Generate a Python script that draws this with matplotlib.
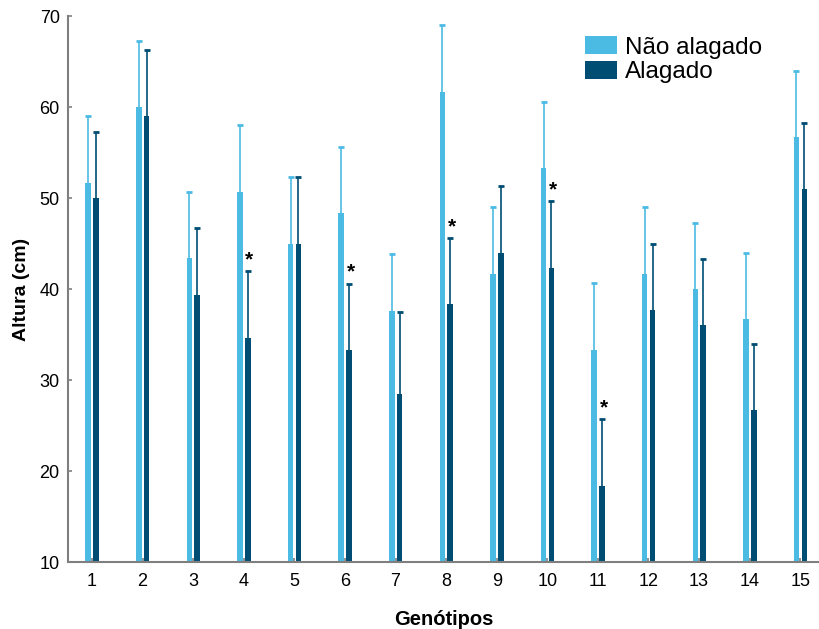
import numpy as np
import matplotlib.pyplot as plt

plt.rcParams['font.family'] = ['Liberation Sans', 'DejaVu Sans']

# Data
genotipos = list(range(1, 16))
nao_alagado = [51.7, 60.0, 43.4, 50.7, 45.0, 48.3, 37.6, 61.7, 41.7, 53.3, 33.3, 41.7, 40.0, 36.7, 56.7]
nao_alagado_sup = [59.0, 67.3, 50.7, 58.0, 52.3, 55.6, 43.9, 69.0, 49.0, 60.6, 40.7, 49.0, 47.3, 44.0, 64.0]
alagado = [50.0, 59.0, 39.3, 34.6, 45.0, 33.3, 28.5, 38.3, 44.0, 42.3, 18.4, 37.7, 36.0, 26.7, 51.0]
alagado_sup = [57.3, 66.3, 46.7, 42.0, 52.3, 40.6, 37.5, 45.6, 51.3, 49.7, 25.7, 45.0, 43.3, 34.0, 58.3]
significativo = [4, 6, 8, 10, 11]

light = '#4cbbe3'
dark = '#004d73'
grey = '#7f7f7f'

x = np.array(genotipos)
w = 0.11
off_l, off_d = -0.075, 0.08

fig = plt.figure(figsize=(8.2, 6.29), dpi=100)
ax = fig.add_axes([0.083, 0.1065, 0.917, 0.868])

base = 10
ax.bar(x + off_l, np.array(nao_alagado) - base, w, bottom=base, color=light, label='Não alagado')
ax.bar(x + off_d, np.array(alagado) - base, w, bottom=base, color=dark, label='Alagado')

# upper error bars only
ax.vlines(x + off_l, nao_alagado, nao_alagado_sup, color=light, lw=1.2)
ax.plot(x + off_l, nao_alagado_sup, ls='none', marker='_', ms=5, mew=2, color=light)
ax.vlines(x + off_d, alagado, alagado_sup, color=dark, lw=1.2)
ax.plot(x + off_d, alagado_sup, ls='none', marker='_', ms=5, mew=2, color=dark)

for g in significativo:
    i = g - 1
    ax.text(g + off_d + 0.03, alagado_sup[i] + 0.2, '*', ha='center', va='bottom',
            fontsize=15, fontweight='bold', color='black')

ax.set_xlim(0.527, 15.39)
ax.set_ylim(10, 70)
ax.set_xticks(genotipos)
ax.set_yticks(range(10, 71, 10))
ax.tick_params(direction='in', length=3, width=1.2, color=grey, labelsize=13, pad=8)
ax.tick_params(axis='y', pad=6)

for s in ['top', 'right']:
    ax.spines[s].set_visible(False)
for s in ['left', 'bottom']:
    ax.spines[s].set_color(grey)
    ax.spines[s].set_linewidth(1.5)

ax.set_xlabel('Genótipos', fontsize=14.5, fontweight='bold', labelpad=14)
ax.set_ylabel('Altura (cm)', fontsize=14, fontweight='bold', labelpad=7)

ax.legend(loc='upper left', bbox_to_anchor=(0.668, 0.99), frameon=False, fontsize=17.5,
          handlelength=1.3, handleheight=0.76, handletextpad=0.35, labelspacing=0.1,
          borderaxespad=0.2)

fig.savefig('out.png', dpi=100)
